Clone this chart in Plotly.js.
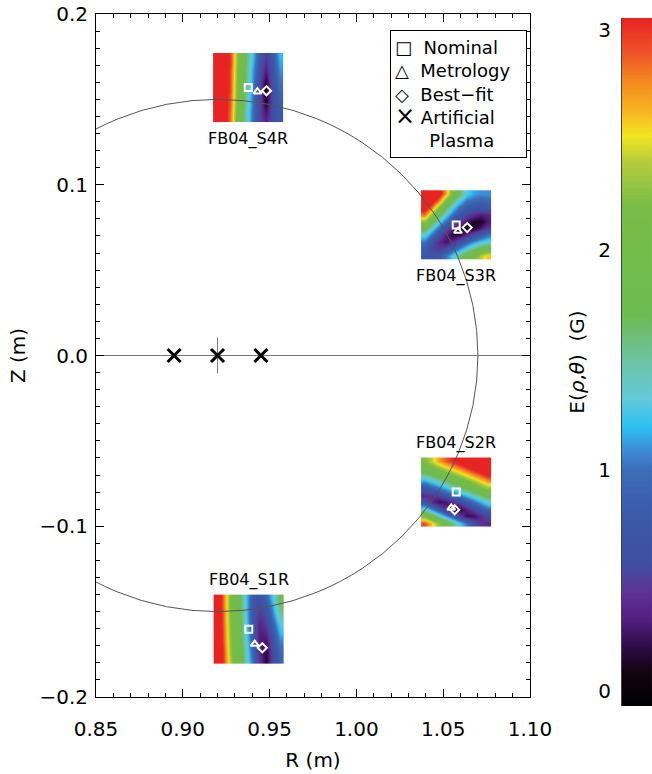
<!DOCTYPE html>
<html>
<head>
<meta charset="utf-8">
<script src="https://cdn.plot.ly/plotly-3.0.1.min.js"></script>
<style>
  html, body { margin: 0; padding: 0; background: #ffffff; }
  #plot { width: 652px; height: 774px; }
</style>
</head>
<body>
<div id="plot"></div>
<script>
// Probe names, ordered from the bottom of the vessel to the top
const probes = ['FB04_S1R', 'FB04_S2R', 'FB04_S3R', 'FB04_S4R'];

// Probe positions (m) from the three estimates
const nominalR   = [0.9380, 1.0575, 1.0575, 0.9377];
const nominalZ   = [-0.1603, -0.0800, 0.0765, 0.1569];
const metrologyR = [0.9414, 1.0546, 1.0585, 0.9430];
const metrologyZ = [-0.1690, -0.0893, 0.0729, 0.1545];
const bestfitR   = [0.9458, 1.0566, 1.0638, 0.9482];
const bestfitZ   = [-0.1712, -0.0903, 0.0749, 0.1551];

// Artificial plasma filament positions (m)
const plasmaR = [0.895, 0.920, 0.945];
const plasmaZ = [0.0, 0.0, 0.0];

// Plasma boundary circle and magnetic axis
const axisR = 0.92;
const axisZ = 0.0;
const boundaryRadius = 0.15;
const axisMarkHalf = 0.0105;

// Error maps E(rho,theta) in gauss around each nominal position.
// Rows run from high Z to low Z, columns from low R to high R.
const errS1R = [
  [3.40, 2.75, 2.10, 1.85, 1.30, 0.80, 0.65, 0.90, 1.30, 1.75],
  [3.40, 2.75, 2.10, 1.86, 1.32, 0.78, 0.56, 0.76, 1.20, 1.65],
  [3.45, 2.78, 2.12, 1.87, 1.34, 0.76, 0.47, 0.66, 1.10, 1.55],
  [3.45, 2.78, 2.14, 1.88, 1.36, 0.77, 0.40, 0.55, 1.00, 1.42],
  [3.45, 2.80, 2.16, 1.90, 1.38, 0.79, 0.34, 0.45, 0.88, 1.30],
  [3.50, 2.82, 2.18, 1.92, 1.40, 0.82, 0.30, 0.37, 0.79, 1.20],
  [3.50, 2.82, 2.20, 1.94, 1.42, 0.86, 0.30, 0.29, 0.72, 1.10],
  [3.55, 2.85, 2.22, 1.96, 1.45, 0.90, 0.33, 0.21, 0.66, 1.00],
  [3.55, 2.88, 2.25, 1.98, 1.48, 0.95, 0.39, 0.15, 0.61, 0.95],
  [3.55, 2.90, 2.28, 2.00, 1.50, 1.00, 0.46, 0.15, 0.57, 0.90]
];
const errS2R = [
  [2.20, 2.42, 2.70, 2.88, 3.06, 3.23, 3.42, 3.60, 3.80, 3.97],
  [1.92, 2.09, 2.26, 2.44, 2.62, 2.79, 2.98, 3.16, 3.34, 3.53],
  [1.49, 1.66, 1.82, 1.99, 2.18, 2.35, 2.54, 2.72, 2.90, 3.09],
  [1.08, 1.23, 1.39, 1.56, 1.74, 1.92, 2.10, 2.28, 2.47, 2.66],
  [0.68, 0.81, 0.96, 1.13, 1.30, 1.48, 1.66, 1.85, 2.05, 2.24],
  [0.40, 0.42, 0.52, 0.67, 0.85, 1.02, 1.21, 1.40, 1.60, 1.80],
  [0.69, 0.39, 0.21, 0.26, 0.41, 0.58, 0.78, 0.97, 1.17, 1.37],
  [1.40, 1.07, 0.73, 0.40, 0.06, 0.15, 0.35, 0.55, 0.76, 0.96],
  [2.16, 1.83, 1.50, 1.16, 0.83, 0.51, 0.22, 0.22, 0.39, 0.58],
  [2.93, 2.58, 2.26, 1.93, 1.60, 1.29, 0.98, 0.67, 0.42, 0.37]
];
const errS3R = [
  [3.50, 3.40, 3.20, 2.70, 2.10, 1.65, 1.30, 1.15, 1.10, 1.10],
  [3.40, 3.20, 2.80, 2.15, 1.65, 1.28, 1.00, 0.95, 0.90, 0.95],
  [3.20, 2.80, 2.20, 1.70, 1.28, 0.95, 0.80, 0.70, 0.70, 0.75],
  [2.80, 2.25, 1.75, 1.32, 0.95, 0.75, 0.55, 0.40, 0.30, 0.35],
  [2.25, 1.80, 1.32, 0.95, 0.70, 0.45, 0.25, 0.12, 0.12, 0.30],
  [1.80, 1.35, 0.95, 0.65, 0.35, 0.12, 0.05, 0.12, 0.30, 0.50],
  [1.35, 1.00, 0.65, 0.35, 0.15, 0.18, 0.40, 0.60, 0.80, 1.00],
  [1.00, 0.70, 0.40, 0.25, 0.40, 0.65, 0.90, 1.10, 1.25, 1.35],
  [0.80, 0.55, 0.45, 0.60, 0.85, 1.10, 1.35, 1.60, 1.80, 1.95],
  [0.75, 0.70, 0.80, 1.00, 1.30, 1.60, 1.90, 2.15, 2.40, 2.60]
];
const errS4R = [
  [3.40, 3.30, 2.95, 2.20, 1.75, 1.30, 0.85, 0.45, 0.80, 1.20],
  [3.40, 3.30, 2.95, 2.20, 1.75, 1.25, 0.80, 0.38, 0.75, 1.15],
  [3.40, 3.30, 2.90, 2.15, 1.70, 1.20, 0.75, 0.30, 0.72, 1.10],
  [3.40, 3.30, 2.90, 2.15, 1.70, 1.20, 0.70, 0.20, 0.68, 1.05],
  [3.40, 3.30, 2.90, 2.10, 1.65, 1.15, 0.65, 0.10, 0.65, 1.00],
  [3.40, 3.30, 2.90, 2.10, 1.65, 1.15, 0.62, 0.05, 0.62, 0.95],
  [3.40, 3.30, 2.85, 2.10, 1.60, 1.10, 0.60, 0.08, 0.60, 0.90],
  [3.40, 3.25, 2.85, 2.05, 1.60, 1.10, 0.60, 0.15, 0.60, 0.85],
  [3.40, 3.25, 2.80, 2.05, 1.55, 1.05, 0.60, 0.25, 0.60, 0.80],
  [3.40, 3.25, 2.80, 2.00, 1.55, 1.05, 0.60, 0.32, 0.60, 0.80]
];
const errMaps = [errS1R, errS2R, errS3R, errS4R];

// Side length (m) of the square each map covers
const mapSize = 0.0405;

// Colour scale of E (G)
const cMin = -0.07;
const cMax = 3.055;
const colourStops = [
  [-0.07, '#000000'], [0.08, '#12040f'], [0.20, '#2e0c48'], [0.33, '#561f82'],
  [0.45, '#5b3496'], [0.58, '#404ea2'], [0.80, '#3a5aa8'], [1.00, '#3e6db8'],
  [1.10, '#3c8fd8'], [1.20, '#2cc2f2'], [1.32, '#62c9da'], [1.50, '#6dc3a2'],
  [1.70, '#6cbb52'], [2.20, '#78bd45'], [2.40, '#b5cb3c'], [2.52, '#f0e61e'],
  [2.62, '#f8b823'], [2.75, '#f58f1f'], [2.90, '#ee5228'], [3.055, '#e82323']
];
const colorscale = colourStops.map(s => [(s[0] - cMin) / (cMax - cMin), s[1]]);
const cbTicks = [0, 1, 2, 3];

const FONT = 'DejaVu Sans, Liberation Sans, Arial, sans-serif';

const traces = [];

// Error maps, each centred on its probe's nominal position
errMaps.forEach((rows, k) => {
  const n = rows.length, m = rows[0].length;
  const cellR = mapSize / m, cellZ = mapSize / n;
  traces.push({
    type: 'heatmap',
    z: rows.slice().reverse(),
    x0: nominalR[k] - mapSize / 2 + cellR / 2, dx: cellR,
    y0: nominalZ[k] - mapSize / 2 + cellZ / 2, dy: cellZ,
    zsmooth: 'best',
    colorscale: colorscale, zmin: cMin, zmax: cMax,
    showscale: false, hoverinfo: 'skip',
    xaxis: 'x', yaxis: 'y'
  });
});

const whiteMarker = (symbol) => ({
  symbol: symbol, size: 7, color: '#ffffff',
  line: { color: '#ffffff', width: 2 }
});

traces.push({ type: 'scatter', mode: 'markers', name: 'Nominal',
  x: nominalR, y: nominalZ, marker: whiteMarker('square-open'), hoverinfo: 'skip' });
traces.push({ type: 'scatter', mode: 'markers', name: 'Metrology',
  x: metrologyR, y: metrologyZ, marker: whiteMarker('triangle-up-open'), hoverinfo: 'skip' });
traces.push({ type: 'scatter', mode: 'markers', name: 'Best-fit',
  x: bestfitR, y: bestfitZ, marker: whiteMarker('diamond-open'), hoverinfo: 'skip' });
traces.push({ type: 'scatter', mode: 'markers', name: 'Artificial Plasma',
  x: plasmaR, y: plasmaZ,
  marker: { symbol: 'x-thin-open', size: 13, color: '#000000', line: { color: '#000000', width: 3 } },
  hoverinfo: 'skip' });

// Colour bar drawn as its own strip on a second pair of axes
const nLevels = 400;
const cbLevels = [];
for (let i = 0; i < nLevels; i++) cbLevels.push(cMin + (cMax - cMin) * (i + 0.5) / nLevels);
traces.push({
  type: 'heatmap', x: [0], y: cbLevels, z: cbLevels.map(v => [v]),
  colorscale: colorscale, zmin: cMin, zmax: cMax,
  showscale: false, hoverinfo: 'skip', xaxis: 'x2', yaxis: 'y2'
});

// Probe name labels: top two below their map, bottom two above
const annotations = probes.map((name, k) => {
  const above = nominalZ[k] < 0;
  return {
    text: name, xref: 'x', yref: 'y', x: nominalR[k],
    y: above ? nominalZ[k] + mapSize / 2 : nominalZ[k] - mapSize / 2,
    xanchor: 'center', yanchor: above ? 'bottom' : 'top',
    yshift: above ? 3 : -5, showarrow: false,
    font: { family: FONT, size: 16, color: '#000000' }
  };
});

// Symbol key
const nb = '\u00A0';
annotations.push({
  text: '\u25A1' + nb + ' Nominal<br>\u25B3' + nb + ' Metrology<br>\u25C7' + nb + ' Best\u2212fit<br>' +
        '<span style="font-size:24px">\u00D7</span>' + nb + 'Artificial<br>' + nb.repeat(6) + 'Plasma',
  xref: 'paper', yref: 'paper', x: 0.5288, y: 0.977,
  xanchor: 'left', yanchor: 'top', align: 'left', valign: 'middle', showarrow: false,
  width: 127, height: 118,
  bordercolor: '#000000', borderwidth: 1, borderpad: 4, bgcolor: '#ffffff',
  font: { family: FONT, size: 18, color: '#000000' }
});

const shapes = [
  // plasma boundary
  { type: 'circle', xref: 'x', yref: 'y',
    x0: axisR - boundaryRadius, x1: axisR + boundaryRadius,
    y0: axisZ - boundaryRadius, y1: axisZ + boundaryRadius,
    line: { color: '#555555', width: 1 }, layer: 'above' },
  // midplane
  { type: 'line', xref: 'x domain', yref: 'y', x0: 0, x1: 1, y0: axisZ, y1: axisZ,
    line: { color: '#777777', width: 1 }, layer: 'below' },
  // magnetic axis mark
  { type: 'line', xref: 'x', yref: 'y', x0: axisR, x1: axisR,
    y0: axisZ - axisMarkHalf, y1: axisZ + axisMarkHalf,
    line: { color: '#777777', width: 1 }, layer: 'below' }
];

const axisCommon = {
  showgrid: false, zeroline: false, showline: true, linecolor: '#000000', linewidth: 1,
  mirror: 'allticks', ticks: 'inside', ticklen: 8, tickwidth: 1, tickcolor: '#000000',
  tickfont: { family: FONT, size: 20, color: '#000000' },
  minor: { ticks: 'inside', ticklen: 4, tickwidth: 1, tickcolor: '#000000', showgrid: false }
};

const layout = {
  width: 652, height: 774,
  margin: { l: 96, r: 0, t: 14, b: 68 },
  paper_bgcolor: '#ffffff', plot_bgcolor: '#ffffff',
  showlegend: false,
  font: { family: FONT, color: '#000000' },
  xaxis: Object.assign({}, axisCommon, {
    domain: [0, 0.7806], range: [0.85, 1.10], anchor: 'y',
    tick0: 0.85, dtick: 0.05, tickformat: '.2f', ticklabelstandoff: 14,
    minor: Object.assign({}, axisCommon.minor, { dtick: 0.01 }),
    title: { text: 'R (m)', font: { family: FONT, size: 20 }, standoff: 12 }
  }),
  yaxis: Object.assign({}, axisCommon, {
    domain: [0.013, 1], range: [-0.2, 0.2], anchor: 'x',
    tick0: 0, dtick: 0.1, tickformat: '.1f', ticklabelstandoff: 3,
    minor: Object.assign({}, axisCommon.minor, { dtick: 0.01 }),
    title: { text: 'Z (m)', font: { family: FONT, size: 20 }, standoff: 8 }
  }),
  xaxis2: { domain: [0.946, 1], range: [-0.5, 0.5], anchor: 'y2', visible: false, fixedrange: true },
  yaxis2: {
    domain: [0, 0.9942], range: [cMin, cMax], anchor: 'x2', side: 'left',
    tickvals: cbTicks, ticktext: cbTicks.map(String), ticks: '',
    showgrid: false, zeroline: false, showline: true, linecolor: '#444444', linewidth: 1,
    tickfont: { family: FONT, size: 20, color: '#000000' }, ticklabelstandoff: 6,
    title: { text: 'E(<i>\u03C1</i>,<i>\u03B8</i>)\u00A0\u00A0(G)', font: { family: FONT, size: 20 }, standoff: 8 }
  },
  shapes: shapes,
  annotations: annotations
};

Plotly.newPlot('plot', traces, layout, { displayModeBar: false, staticPlot: true }).then(gd => {
  // keep the frame's tick marks on the top drawing layer
  const top = gd._fullLayout._toppaper.node();
  const g = document.createElementNS('http://www.w3.org/2000/svg', 'g');
  g.setAttribute('class', 'frame-ticks');
  gd.querySelectorAll('.subplot.xy path.ticks').forEach(p => g.appendChild(p.cloneNode(true)));
  top.appendChild(g);
});
</script>
</body>
</html>
